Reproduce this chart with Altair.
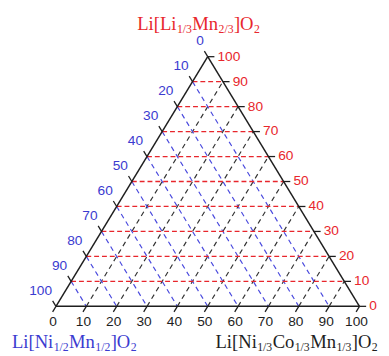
import altair as alt
import pandas as pd

# ---------------- data ----------------
grid_levels = [10, 20, 30, 40, 50, 60, 70, 80, 90]
tick_levels = [0, 10, 20, 30, 40, 50, 60, 70, 80, 90, 100]
red_labels = ["0", "10", "20", "30", "40", "50", "60", "70", "80", "90", "100"]    # Li[Li1/3Mn2/3]O2 (top)
blue_labels = ["0", "10", "20", "30", "40", "50", "60", "70", "80", "90", "100"]   # Li[Ni1/2Mn1/2]O2 (left)
black_labels = ["0", "10", "20", "30", "40", "50", "60", "70", "80", "90", "100"]  # Li[Ni1/3Co1/3Mn1/3]O2 (right)

title_top = [("Li[Li", 0), ("1/3", 1), ("Mn", 0), ("2/3", 1), ("]O", 0), ("2", 1)]
title_left = [("Li[Ni", 0), ("1/2", 1), ("Mn", 0), ("1/2", 1), ("]O", 0), ("2", 1)]
title_right = [("Li[Ni", 0), ("1/3", 1), ("Co", 0), ("1/3", 1), ("Mn", 0), ("1/3", 1), ("]O", 0), ("2", 1)]

# ---------------- style ----------------
RED = "#e8262c"
BLUE = "#3b3bd0"
BLUE_LINE = "#4a4ade"
BLACK = "#1e1e1e"
W, H = 381, 348
# page pixel = 8 + plot pixel; triangle: bottom-left (57,309), bottom-right (367,309), apex (212,54)
SX, SY = 3.1, 2.55
X_DOM = [-(57 - 8) / SX, (W - (57 - 8)) / SX]
Y_DOM = [-(H - (309 - 8)) / SY, (309 - 8) / SY]
TICK = 2.2


def cart(a, b, c):
    # a: top (red), b: bottom-left (blue), c: bottom-right (black)
    return c + a / 2.0, a


def seg(p, q):
    (x1, y1), (x2, y2) = cart(*p), cart(*q)
    return dict(x=x1, y=y1, x2=x2, y2=y2)


red_grid = pd.DataFrame([seg((a, 100 - a, 0), (a, 0, 100 - a)) for a in grid_levels])
blue_grid = pd.DataFrame([seg((100 - b, b, 0), (0, b, 100 - b)) for b in grid_levels])
black_grid = pd.DataFrame([seg((0, 100 - c, c), (100 - c, 0, c)) for c in grid_levels])
edges = pd.DataFrame([seg((100, 0, 0), (0, 100, 0)), seg((0, 100, 0), (0, 0, 100)), seg((0, 0, 100), (100, 0, 0))])

ticks = pd.DataFrame(
    [seg((a, 0, 100 - a), (a, -TICK, 100 - a + TICK)) for a in tick_levels]
    + [seg((100 - b, b, 0), (100 - b + TICK, b, -TICK)) for b in tick_levels]
    + [seg((0, 100 - c, c), (-TICK, 100 - c + TICK, c)) for c in tick_levels]
)

red_lab = pd.DataFrame([dict(zip(("x", "y"), cart(a, 0, 100 - a)), t=t) for a, t in zip(tick_levels, red_labels)])
blue_lab = pd.DataFrame([dict(zip(("x", "y"), cart(100 - b, b, 0)), t=t) for b, t in zip(tick_levels, blue_labels)])
black_lab = pd.DataFrame([dict(zip(("x", "y"), cart(0, 100 - c, c)), t=t) for c, t in zip(tick_levels, black_labels)])

xs = alt.Scale(domain=X_DOM, nice=False, zero=False)
ys = alt.Scale(domain=Y_DOM, nice=False, zero=False)


def rules(df, color, width, dash=None):
    kw = dict(color=color, strokeWidth=width)
    if dash:
        kw["strokeDash"] = dash
    return alt.Chart(df).mark_rule(**kw).encode(
        x=alt.X("x:Q", scale=xs, axis=None),
        y=alt.Y("y:Q", scale=ys, axis=None),
        x2="x2:Q",
        y2="y2:Q",
    )


def labels(df, color, align, dx, dy):
    return alt.Chart(df).mark_text(
        color=color, align=align, baseline="middle", dx=dx, dy=dy,
        font="Liberation Sans", fontSize=14,
    ).encode(
        x=alt.X("x:Q", scale=xs, axis=None),
        y=alt.Y("y:Q", scale=ys, axis=None),
        text="t:N",
    )


# Times / Liberation Serif advance widths (per 1000 em)
ADV = {"L": 611, "i": 278, "[": 333, "]": 333, "N": 722, "M": 889, "n": 500,
       "C": 667, "o": 500, "O": 722, "/": 278, "1": 500, "2": 500, "3": 500}
MAIN_FS, SUB_FS = 19, 12


def px_to_x(px):
    return X_DOM[0] + px / W * (X_DOM[1] - X_DOM[0])


def py_to_y(py):
    return Y_DOM[1] - py / H * (Y_DOM[1] - Y_DOM[0])


def title(segs, x_page, base_page, color, anchor="left"):
    rows, off = [], 0.0
    for s, sub in segs:
        fs = SUB_FS if sub else MAIN_FS
        rows.append(dict(t=s, off=off, py=base_page - 8 + (3 if sub else 0), fs=fs))
        off += sum(ADV[ch] for ch in s) * fs / 1000.0 + 0.4
    start = x_page - 8 - (off if anchor == "right" else 0)
    for r in rows:
        r["x"] = px_to_x(start + r["off"])
        r["y"] = py_to_y(r["py"])
    df = pd.DataFrame(rows)
    return alt.Chart(df).mark_text(
        color=color, align="left", baseline="alphabetic", font="Liberation Serif",
    ).encode(
        x=alt.X("x:Q", scale=xs, axis=None),
        y=alt.Y("y:Q", scale=ys, axis=None),
        size=alt.Size("fs:Q", scale=None, legend=None),
        text="t:N",
    )


chart = alt.layer(
    rules(black_grid, "#333333", 1.2, [5, 4]),
    rules(blue_grid, BLUE_LINE, 1.2, [5, 4]),
    rules(red_grid, RED, 1.3, [5, 3]),
    rules(edges, BLACK, 1.5),
    rules(ticks, BLACK, 1.3),
    labels(red_lab, RED, "left", 10, 0),
    labels(blue_lab, BLUE, "right", -4, -16),
    labels(black_lab, BLACK, "center", -3, 16),
    title(title_top, 140, 26.5, RED),
    title(title_left, 12, 352, BLUE),
    title(title_right, 386, 352, BLACK, anchor="right"),
).properties(
    width=W, height=H, padding=0, autosize=alt.AutoSizeParams(type="none"),
).configure_view(stroke=None)

chart.save("out.html", embed_options={"renderer": "svg", "actions": False})
